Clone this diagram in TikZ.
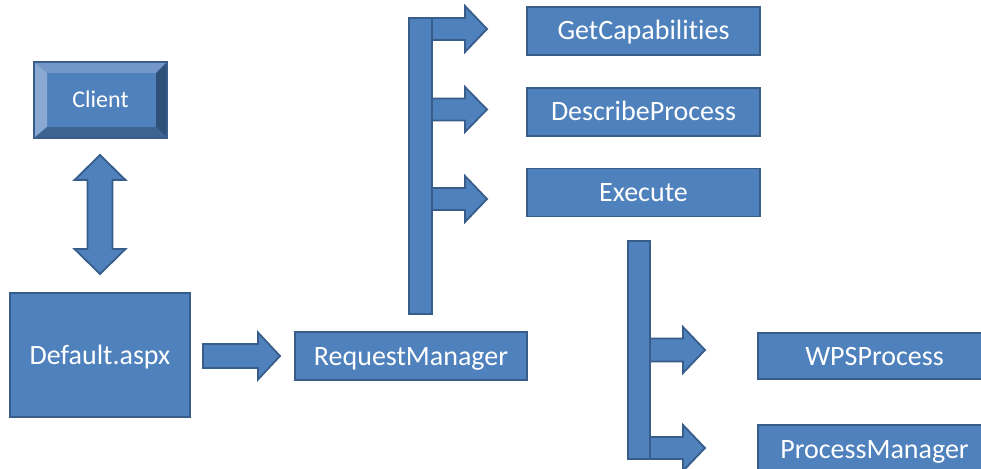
\documentclass[tikz,border=0pt]{standalone}
\usepackage{fontspec}
\setmainfont{Carlito}[Ligatures=NoCommon]
\usetikzlibrary{calc}
\definecolor{boxblue}{HTML}{4F81BD}
\definecolor{boxedge}{HTML}{385D8A}
\definecolor{bevtop}{HTML}{7297C8}
\definecolor{bevleft}{HTML}{89A9D3}
\definecolor{bevright}{HTML}{2E5079}
\definecolor{bevbottom}{HTML}{3C6392}
\newcommand\rightblock[6]{%
  \filldraw[blockshape] (#1,#3-#4) -- (#2-#6,#3-#4) -- (#2-#6,#3-#5) -- (#2,#3) --
    (#2-#6,#3+#5) -- (#2-#6,#3+#4) -- (#1,#3+#4) -- cycle;}
\begin{document}
\begin{tikzpicture}[x=1pt,y=-1pt,
  box/.style={draw=boxedge, fill=boxblue, line width=1.8pt, text=white, inner sep=0pt, outer sep=0pt,
    font=\fontsize{28}{32}\selectfont, text height=22pt, text depth=4pt},
  blockshape/.style={draw=boxedge, fill=boxblue, line width=1.8pt, line join=miter}]
\clip (0,0) rectangle (981,468);
\fill[white] (0,0) rectangle (981,468);

% Client (bevelled)
\node[box, minimum width=133pt, minimum height=76pt, font=\fontsize{24}{28}\selectfont,
  text height=19pt, text depth=3.6pt] (client) at (100.5,100) {Client};
\fill[bevtop] (client.north west) -- (client.north east) -- ($(client.north east)+(-11,11)$) -- ($(client.north west)+(13,11)$) -- cycle;
\fill[bevleft] (client.north west) -- ($(client.north west)+(13,11)$) -- ($(client.south west)+(13,-11)$) -- (client.south west) -- cycle;
\fill[bevright] (client.north east) -- ($(client.north east)+(-11,11)$) -- ($(client.south east)+(-11,-11)$) -- (client.south east) -- cycle;
\fill[bevbottom] (client.south west) -- ($(client.south west)+(13,-11)$) -- ($(client.south east)+(-11,-11)$) -- (client.south east) -- cycle;
\draw[boxedge, line width=1.8pt] (client.north west) rectangle (client.south east);

% Boxes
\node[box, minimum width=180pt, minimum height=124pt] (default) at (100,355) {Default.aspx};
\node[box, minimum width=232pt, minimum height=48pt] (rm) at (411,356) {RequestManager};
\node[box, minimum width=233pt, minimum height=48pt] (gc) at (643.5,31) {GetCapabilities};
\node[box, minimum width=233pt, minimum height=48pt] (dp) at (643.5,112) {DescribeProcess};
\node[box, minimum width=233pt, minimum height=48pt] (ex) at (643.5,192.5) {Execute};
\node[box, minimum width=233pt, minimum height=46pt] (wps) at (874.5,356) {WPSProcess};
\node[box, minimum width=233pt, minimum height=48pt] (pm) at (874.5,449) {ProcessManager};

% Double arrow Client <-> Default
\filldraw[blockshape] (100,155) -- (125.5,180) -- (112.5,180) -- (112.5,249) -- (125.5,249) -- (100,274)
  -- (74.5,249) -- (87.5,249) -- (87.5,180) -- (74.5,180) -- cycle;

% Default -> RequestManager
\rightblock{203}{280}{356}{12}{23.5}{22}

% Bus 1 and branches
\rightblock{420}{487}{29}{11}{23}{22}
\rightblock{420}{487}{109.5}{11}{22.5}{22}
\rightblock{420}{487}{199}{11}{23}{22}
\node[blockshape, minimum width=23pt, minimum height=296pt, inner sep=0pt, outer sep=0pt] (bus1) at (420.5,166) {};

% Bus 2 and branches
\rightblock{639}{705}{350}{11.5}{23}{22}
\rightblock{639}{705}{448}{11}{23}{22}
\node[blockshape, minimum width=22pt, minimum height=218pt, inner sep=0pt, outer sep=0pt] (bus2) at (639,350) {};
\end{tikzpicture}
\end{document}
